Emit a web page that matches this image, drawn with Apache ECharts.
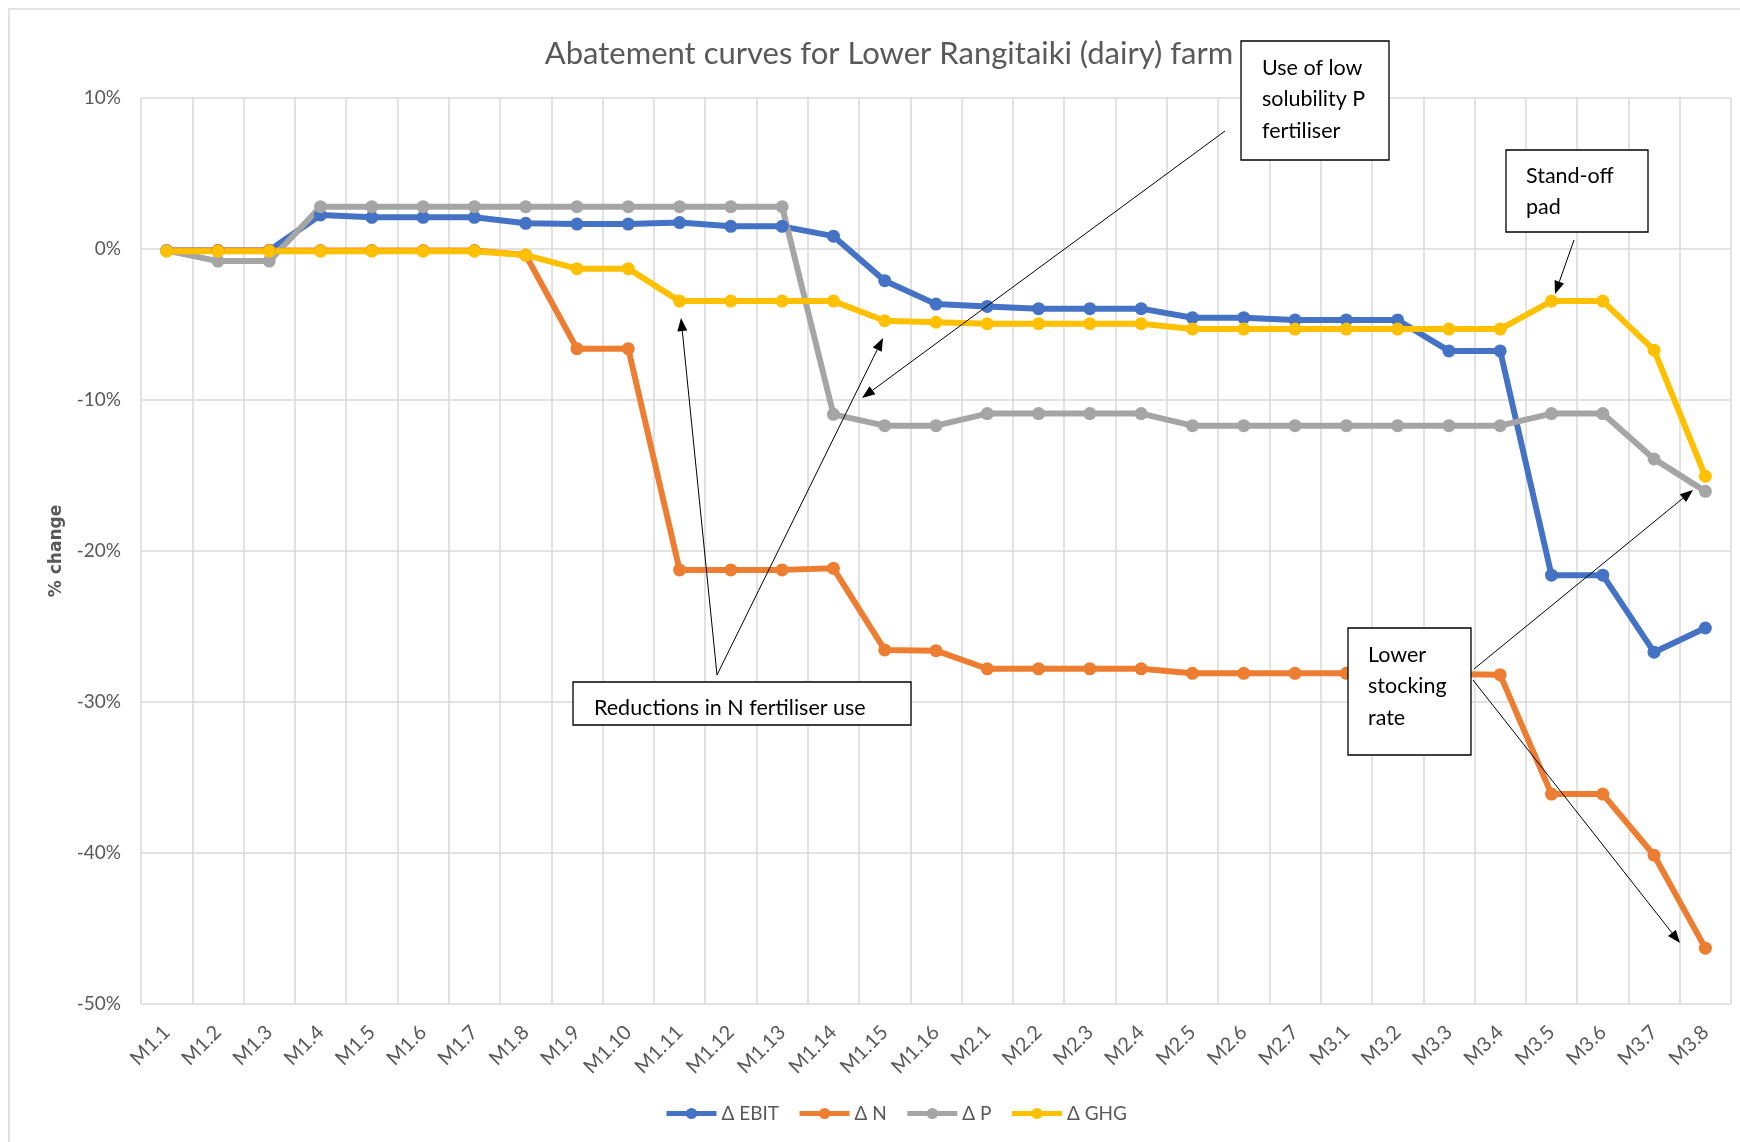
<!DOCTYPE html>
<html>
<head>
<meta charset="utf-8">
<script src="https://cdn.jsdelivr.net/npm/echarts@6/dist/echarts.min.js"></script>
<style>
html,body{margin:0;padding:0;background:#fff;}
#chart{width:1740px;height:1142px;}
</style>
</head>
<body>
<div id="chart"></div>
<script>
// categories (measures)
var categories = ['M1.1','M1.2','M1.3','M1.4','M1.5','M1.6','M1.7','M1.8','M1.9','M1.10',
    'M1.11','M1.12','M1.13','M1.14','M1.15','M1.16',
    'M2.1','M2.2','M2.3','M2.4','M2.5','M2.6','M2.7',
    'M3.1','M3.2','M3.3','M3.4','M3.5','M3.6','M3.7','M3.8'];

// % change values
var dEbit = [-0.1,-0.1,-0.1,2.25,2.1,2.1,2.1,1.7,1.65,1.65,1.75,1.5,1.5,0.85,-2.1,-3.65,
    -3.8,-3.95,-3.95,-3.95,-4.55,-4.55,-4.7,
    -4.7,-4.7,-6.75,-6.75,-21.6,-21.6,-26.7,-25.1];
var dN = [-0.1,-0.1,-0.1,-0.1,-0.1,-0.1,-0.1,-0.4,-6.6,-6.6,-21.25,-21.25,-21.25,-21.15,-26.55,-26.6,
    -27.8,-27.8,-27.8,-27.8,-28.1,-28.1,-28.1,
    -28.1,-28.1,-28.15,-28.2,-36.1,-36.1,-40.15,-46.3];
var dP = [-0.1,-0.8,-0.8,2.8,2.8,2.8,2.8,2.8,2.8,2.8,2.8,2.8,2.8,-10.95,-11.7,-11.7,
    -10.9,-10.9,-10.9,-10.9,-11.7,-11.7,-11.7,
    -11.7,-11.7,-11.7,-11.7,-10.9,-10.9,-13.9,-16.05];
var dGhg = [-0.15,-0.15,-0.15,-0.15,-0.15,-0.15,-0.15,-0.4,-1.3,-1.3,-3.45,-3.45,-3.45,-3.45,-4.75,-4.85,
    -4.95,-4.95,-4.95,-4.95,-5.3,-5.3,-5.3,
    -5.3,-5.3,-5.3,-5.3,-3.45,-3.45,-6.7,-15.05];

var seriesNames = ['\u0394 EBIT','\u0394 N','\u0394 P','\u0394 GHG'];
var seriesColors = ['#4472C4','#ED7D31','#A5A5A5','#FFC000'];

// callout boxes and arrows (pixel layout)
var boxes = [
    {x:1241, y:41, w:148, h:119, text:'Use of low\nsolubility P\nfertiliser', tx:1262, ty:52},
    {x:573, y:682, w:338, h:43, text:'Reductions in N fertiliser use', tx:594, ty:692},
    {x:1506, y:150, w:142, h:82, text:'Stand-off\npad', tx:1526, ty:160},
    {x:1348, y:628, w:123, h:127, text:'Lower\nstocking\nrate', tx:1368, ty:639}
];
var arrows = [
    [1225,131,862,398],
    [717,675,681,318],
    [717,675,883,338],
    [1574,240,1555,294],
    [1474,669,1693,490],
    [1473,680,1680,943]
];

var font = 'Lato, "Noto Sans", sans-serif';

var chart = echarts.init(document.getElementById('chart'));

var series = [];
var lists = [dEbit, dN, dP, dGhg];
for (var i = 0; i < lists.length; i++) {
    series.push({
        name: seriesNames[i],
        type: 'line',
        data: lists[i],
        symbol: 'circle',
        symbolSize: 13,
        color: seriesColors[i],
        lineStyle: {width: 6, color: seriesColors[i]},
        itemStyle: {color: seriesColors[i]},
        emphasis: {disabled: true},
        animation: false
    });
}

function arrowParts(a) {
    var x1 = a[0], y1 = a[1], x2 = a[2], y2 = a[3];
    var dx = x2 - x1, dy = y2 - y1;
    var len = Math.sqrt(dx * dx + dy * dy);
    var ux = dx / len, uy = dy / len;
    var hl = 13, hw = 5;
    var bx = x2 - ux * hl, by = y2 - uy * hl;
    return [
        {type:'line', z:100, shape:{x1:x1, y1:y1, x2:bx, y2:by}, style:{stroke:'#000', lineWidth:1}},
        {type:'polygon', z:100, shape:{points:[[x2,y2],[bx - uy*hw, by + ux*hw],[bx + uy*hw, by - ux*hw]]}, style:{fill:'#000'}}
    ];
}

var graphics = [
    {type:'rect', z:-10, shape:{x:9, y:9, width:1740, height:1140}, style:{fill:'none', stroke:'#d9d9d9', lineWidth:1.5}}
];
for (var b = 0; b < boxes.length; b++) {
    var bx = boxes[b];
    graphics.push({type:'rect', z:100, shape:{x:bx.x, y:bx.y, width:bx.w, height:bx.h},
        style:{fill:'#fff', stroke:'#000', lineWidth:1.3}});
    graphics.push({type:'text', z:101, x:bx.tx, y:bx.ty,
        style:{text:bx.text, fontSize:21.5, fontFamily:font, fill:'#000', lineHeight:31.5, verticalAlign:'top'}});
}
for (var k = 0; k < arrows.length; k++) {
    graphics = graphics.concat(arrowParts(arrows[k]));
}

var option = {
    backgroundColor: '#fff',
    animation: false,
    title: {
        text: 'Abatement curves for Lower Rangitaiki (dairy) farm',
        left: 884,
        textAlign: 'center',
        top: 33,
        textStyle: {fontFamily: font, fontSize: 31, fontWeight: 'normal', color: '#595959'}
    },
    legend: {
        data: seriesNames,
        left: 659,
        top: 1099,
        itemWidth: 50,
        itemHeight: 14,
        itemGap: 18,
        lineStyle: {width: 5},
        textStyle: {fontFamily: font, fontSize: 19, color: '#595959'}
    },
    grid: {left: 141, right: 9, top: 98, bottom: 138},
    xAxis: {
        type: 'category',
        data: categories,
        boundaryGap: true,
        axisLine: {show: false},
        axisTick: {show: false},
        axisLabel: {rotate: 45, margin: 25, fontFamily: font, fontSize: 20, color: '#595959'},
        splitLine: {show: true, lineStyle: {color: '#d9d9d9', width: 1.5}}
    },
    yAxis: {
        type: 'value',
        min: -50,
        max: 10,
        interval: 10,
        name: '% change',
        nameLocation: 'middle',
        nameGap: 76,
        nameRotate: 90,
        nameTextStyle: {fontFamily: '"DejaVu Sans", sans-serif', fontSize: 17, fontWeight: 'bold', color: '#595959'},
        axisLine: {show: false},
        axisTick: {show: false},
        axisLabel: {formatter: '{value}%', margin: 20, fontFamily: font, fontSize: 19, color: '#595959'},
        splitLine: {show: true, lineStyle: {color: '#d9d9d9', width: 1.5}}
    },
    series: series,
    graphic: graphics
};
chart.setOption(option);
</script>
</body>
</html>
